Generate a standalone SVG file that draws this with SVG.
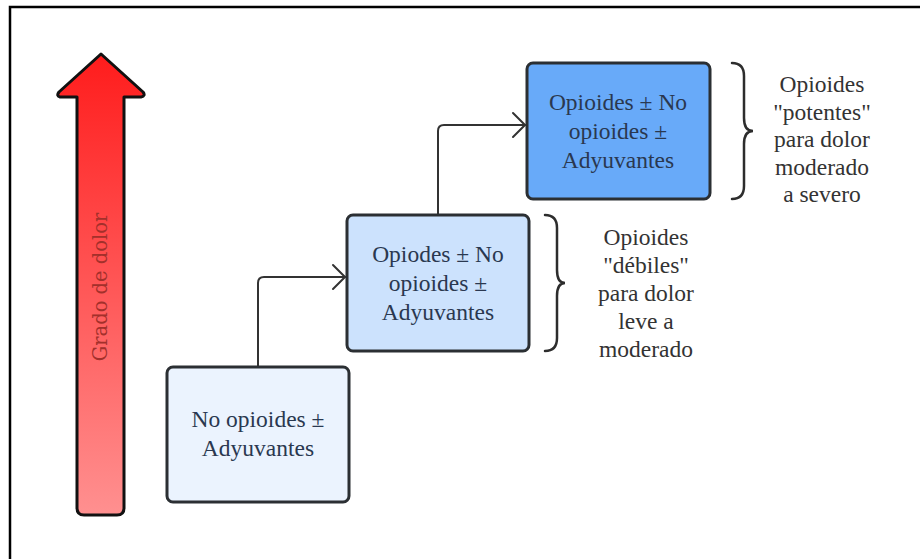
<svg xmlns="http://www.w3.org/2000/svg" width="920" height="559" viewBox="0 0 920 559">
<style>
.box{stroke:#2b2f33;stroke-width:3}
.bt{font-family:"Liberation Serif","Times New Roman",serif;font-size:23.5px;fill:#2a3850;text-anchor:middle}
.lt{font-family:"Liberation Serif","Times New Roman",serif;font-size:23.5px;fill:#333;text-anchor:middle}
.conn{fill:none;stroke:#333;stroke-width:2;stroke-linejoin:round;stroke-linecap:round}
.brace{fill:none;stroke:#2d2d2d;stroke-width:2.5;stroke-linecap:round}
.vt{font-family:"DejaVu Serif","Liberation Serif",serif;font-size:19.5px;fill:#a3302b;text-anchor:middle}
</style>
<defs>
<linearGradient id="red" x1="0" y1="0" x2="0" y2="1">
<stop offset="0" stop-color="#ff1c1c"/>
<stop offset="1" stop-color="#ff9090"/>
</linearGradient>
</defs>
<rect width="920" height="559" fill="#fff"/>
<path d="M10,559 L10,7 L920,7" fill="none" stroke="#000" stroke-width="2.5"/>
<g id="pain-arrow">
<path d="M101,54 L143,92 Q146,96 141,97 L124,97 L124,508 Q124,515 117,515 L84,515 Q77,515 77,508 L77,97 L60,97 Q56,96 59,92 Z" fill="url(#red)" stroke="#111" stroke-width="3" stroke-linejoin="round"/>
<text class="vt" transform="translate(107,287) rotate(-90)">Grado de dolor</text>
</g>
<g id="connectors">
<path class="conn" d="M258,366 L258,283 Q258,277 264,277 L345,277"/>
<path class="conn" d="M333,265 L345,277 L333,289"/>
<path class="conn" d="M438,214 L438,131 Q438,125 444,125 L525,125"/>
<path class="conn" d="M513,113 L525,125 L513,137"/>
</g>
<g id="step1">
<rect class="box" x="167" y="367" width="182" height="135" rx="6" fill="#ebf3fe"/>
<text class="bt" x="258" y="427">No opioides ±</text>
<text class="bt" x="258" y="456">Adyuvantes</text>
</g>
<g id="step2">
<rect class="box" x="347" y="215" width="182" height="136" rx="6" fill="#cce2fd"/>
<text class="bt" x="438" y="262">Opiodes ± No</text>
<text class="bt" x="438" y="291">opioides ±</text>
<text class="bt" x="438" y="320">Adyuvantes</text>
</g>
<g id="step3">
<rect class="box" x="527" y="63" width="183" height="136" rx="6" fill="#68aaf9"/>
<text class="bt" x="618" y="110" fill="#1f3552">Opioides ± No</text>
<text class="bt" x="618" y="139" fill="#1f3552">opioides ±</text>
<text class="bt" x="618" y="168" fill="#1f3552">Adyuvantes</text>
</g>
<g id="label-weak">
<path class="brace" d="M545,215 Q557,215 557,228 L557,270 Q557,283 565,283 Q557,283 557,296 L557,338 Q557,351 545,351"/>
<text class="lt" x="646" y="245">Opioides</text>
<text class="lt" x="646" y="273">"débiles"</text>
<text class="lt" x="646" y="301">para dolor</text>
<text class="lt" x="646" y="329">leve a</text>
<text class="lt" x="646" y="357">moderado</text>
</g>
<g id="label-strong">
<path class="brace" d="M732,63 Q744,63 744,76 L744,118 Q744,131 753,131 Q744,131 744,144 L744,186 Q744,199 732,199"/>
<text class="lt" x="822" y="92">Opioides</text>
<text class="lt" x="822" y="120">"potentes"</text>
<text class="lt" x="822" y="147">para dolor</text>
<text class="lt" x="822" y="175">moderado</text>
<text class="lt" x="822" y="202">a severo</text>
</g>
</svg>
